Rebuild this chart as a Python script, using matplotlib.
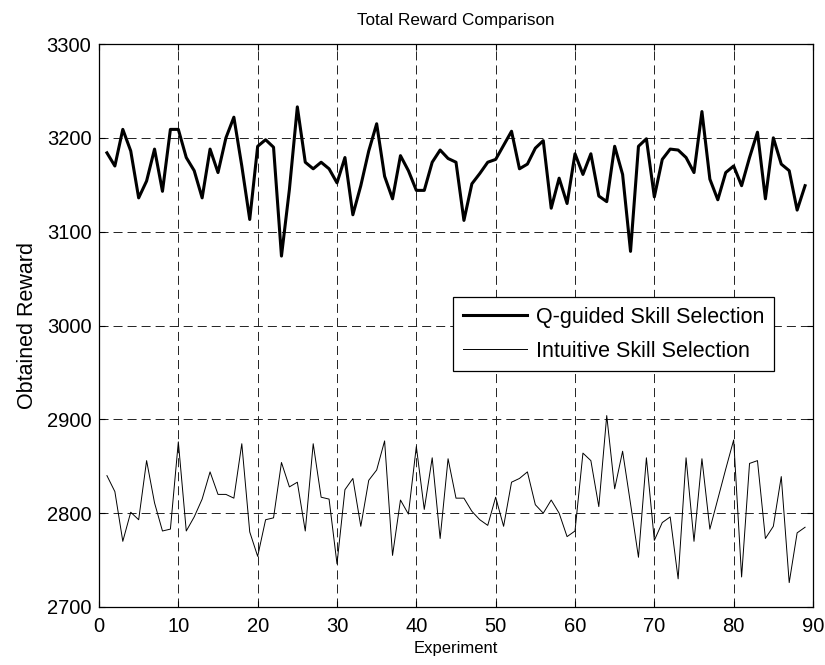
import matplotlib
matplotlib.use("Agg")
import matplotlib.pyplot as plt
import numpy as np

experiments = list(range(1, 90))
q_guided = [3184, 3170, 3209, 3186, 3136, 3154, 3188, 3143, 3209, 3209,
            3179, 3165, 3136, 3188, 3163, 3200, 3222, 3170, 3113, 3191,
            3198, 3190, 3074, 3145, 3233, 3174, 3167, 3174, 3167, 3152,
            3179, 3118, 3149, 3186, 3215, 3159, 3135, 3181, 3165, 3144,
            3144, 3174, 3187, 3178, 3174, 3112, 3151, 3162, 3174, 3177,
            3192, 3207, 3167, 3172, 3189, 3197, 3125, 3157, 3130, 3183,
            3161, 3183, 3138, 3132, 3191, 3161, 3079, 3191, 3199, 3137,
            3177, 3188, 3187, 3179, 3163, 3228, 3156, 3134, 3163, 3170,
            3149, 3179, 3206, 3135, 3200, 3172, 3165, 3123, 3149]
intuitive = [2840, 2823, 2770, 2801, 2793, 2856, 2811, 2781, 2783, 2876,
             2781, 2796, 2815, 2844, 2820, 2820, 2816, 2874, 2780, 2754,
             2793, 2795, 2854, 2828, 2833, 2781, 2874, 2817, 2815, 2746,
             2825, 2837, 2786, 2835, 2846, 2877, 2755, 2814, 2799, 2871,
             2804, 2859, 2773, 2858, 2816, 2816, 2802, 2793, 2787, 2817,
             2786, 2833, 2837, 2844, 2809, 2800, 2814, 2800, 2775, 2781,
             2864, 2856, 2807, 2904, 2826, 2866, 2810, 2753, 2859, 2771,
             2790, 2796, 2730, 2859, 2770, 2858, 2783, 2815, 2847, 2878,
             2732, 2853, 2856, 2773, 2786, 2839, 2726, 2779, 2785]

plt.rcParams['font.family'] = ['Liberation Sans', 'DejaVu Sans']
plt.rcParams['lines.scale_dashes'] = False
fig = plt.figure(figsize=(8.25, 6.65), dpi=100)
ax = fig.add_axes([99/825, 1-607/665, (813-99)/825, (607-44)/665])

ax.plot(experiments, q_guided, color='black', linewidth=2.2, label='Q-guided Skill Selection')
ax.plot(experiments, intuitive, color='black', linewidth=0.7, label='Intuitive Skill Selection')

ax.set_xlim(0, 90)
ax.set_ylim(2700, 3300)
ax.set_xticks(range(0, 91, 10))
ax.set_yticks(range(2700, 3301, 100))
ax.tick_params(direction='in', top=True, right=True, labelsize=14.5, length=4.5, width=0.8)
ax.tick_params(axis='y', pad=5.5)
ax.tick_params(axis='x', pad=7)
ax.grid(True, color='#222222', linestyle=(0, (6.5, 3.6)), linewidth=0.7)
for s in ax.spines.values():
    s.set_linewidth(0.9)

ax.set_title('Total Reward Comparison', fontsize=12.3, pad=14)
ax.set_xlabel('Experiment', fontsize=12, labelpad=4)
ax.set_ylabel('Obtained Reward', fontsize=15.5, labelpad=6)

leg = ax.legend(loc='upper left', bbox_to_anchor=((453-99)/714, 1-(297-44)/563),
                fontsize=15.5, frameon=True, fancybox=False, edgecolor='black',
                framealpha=1, borderpad=0.45, handlelength=3.0, handletextpad=0.4,
                labelspacing=0.6, borderaxespad=0)
leg.get_frame().set_linewidth(0.9)

fig.savefig('out.png', dpi=100)
